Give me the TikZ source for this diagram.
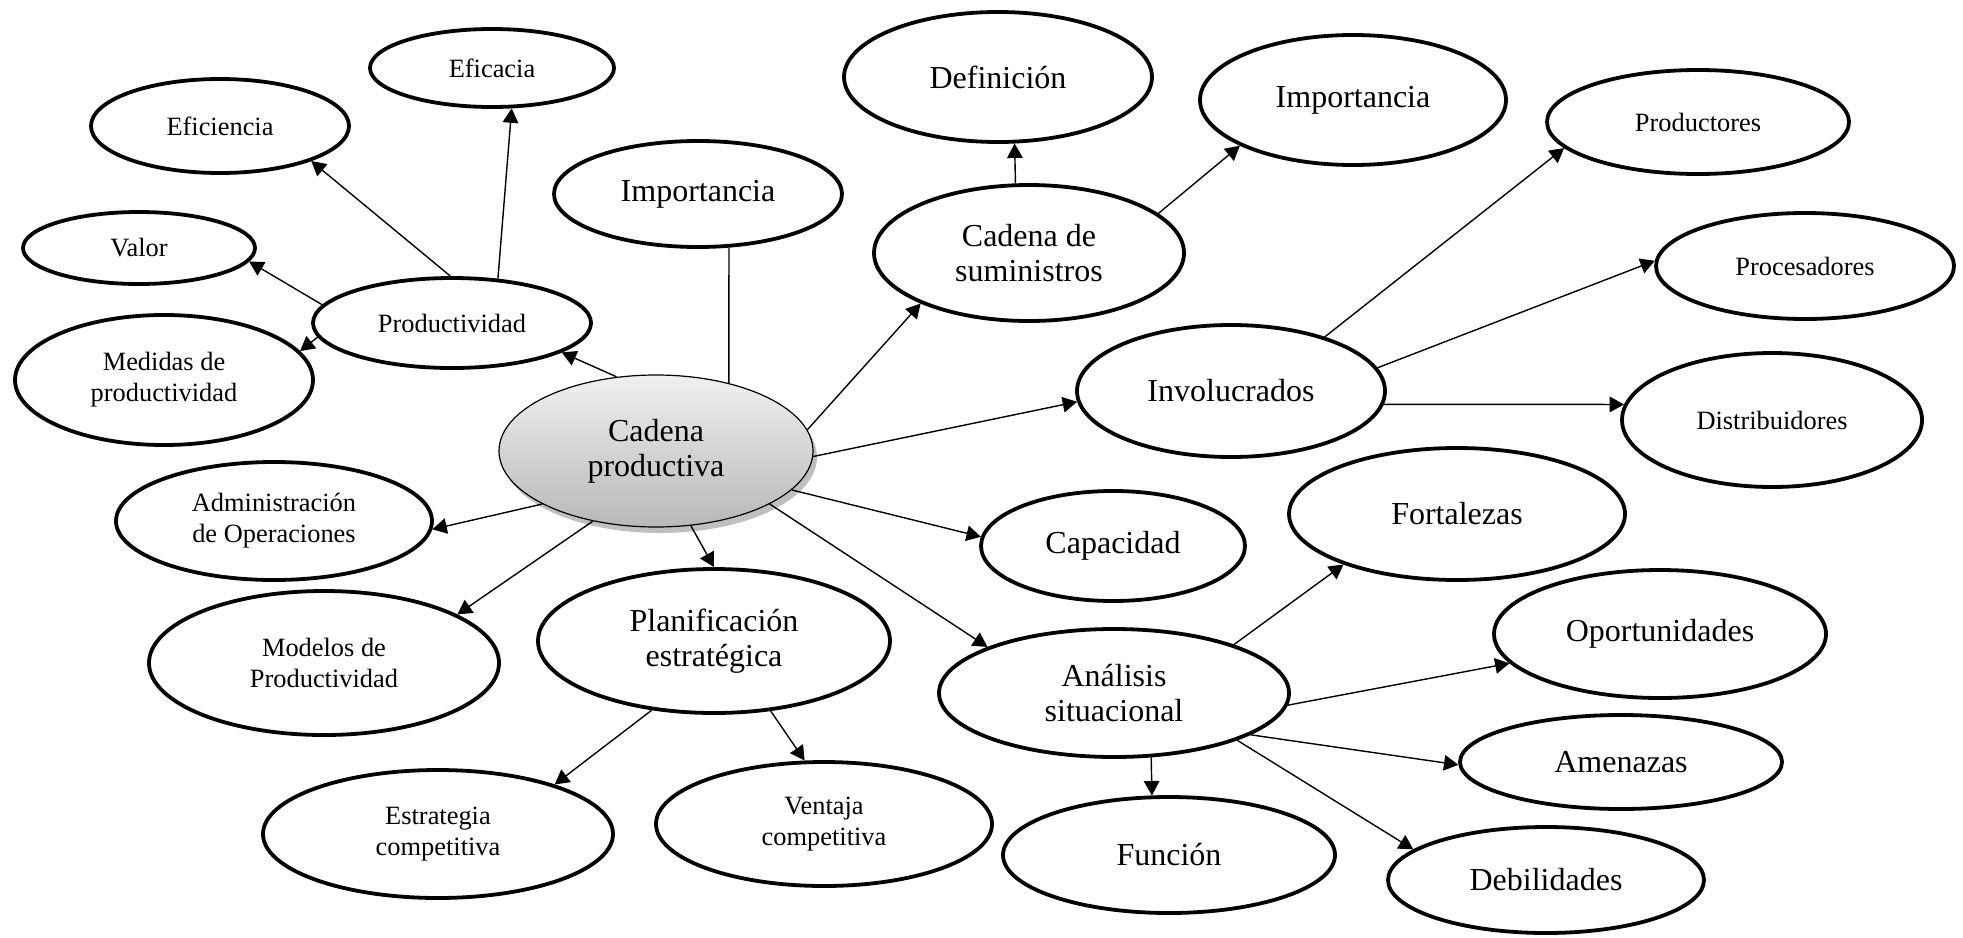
\documentclass[tikz,border=0pt]{standalone}
\usepackage{fontspec}
\setmainfont{Liberation Serif}
\usetikzlibrary{shapes.geometric,arrows.meta,shadows}

\definecolor{hubtop}{RGB}{240,240,240}
\definecolor{hubbottom}{RGB}{184,184,184}

\tikzset{
  bubble/.style={ellipse, draw, line width=1.9pt, inner sep=0pt, align=center},
  sz/.style 2 args={minimum width=#1pt, minimum height=#2pt},
  big/.style={font=\fontsize{16}{17.5}\selectfont},
  small/.style={font=\fontsize{13.2}{15.5}\selectfont},
  hub/.style={ellipse, draw, line width=0.6pt, inner sep=0pt, align=center,
    top color=hubtop, bottom color=hubbottom,
    drop shadow={shadow xshift=2pt, shadow yshift=-3pt, opacity=0.25, fill=black}},
  link/.style={line width=0.7pt},
  arr/.style={link, -{Triangle[length=7.2pt,width=7.8pt]}},
}

\begin{document}
\begin{tikzpicture}[x=0.5pt, y=-0.5pt]
\useasboundingbox (0,0) rectangle (1963,937);

% central concept
\node[hub, big, sz={157}{76}] (cp) at (656,451) {Cadena\\productiva};

% productivity branch
\node[bubble, small, sz={139}{45}] (prod) at (452,323) {Productividad};
\node[bubble, small, sz={122}{39}] (eficacia) at (492,68) {Eficacia};
\node[bubble, small, sz={129}{47}] (eficiencia) at (220,126) {Eficiencia};
\node[bubble, small, sz={116}{36}] (valor) at (139,248) {Valor};
\node[bubble, small, sz={149}{65}] (medidas) at (164,380) {Medidas de\\productividad};

\node[bubble, big, sz={144}{53}] (impL) at (698,194) {Importancia};

% supply chain branch
\node[bubble, big, sz={155}{68}] (sum) at (1029,253) {Cadena de\\suministros};
\node[bubble, big, sz={154}{65}] (def) at (998,77) {Definición};
\node[bubble, big, sz={153}{65}] (impR) at (1353,100) {Importancia};

% stakeholders
\node[bubble, big, sz={154}{66}] (inv) at (1231,391) {Involucrados};
\node[bubble, small, sz={151}{52}] (prodtores) at (1698,122) {Productores};
\node[bubble, small, sz={149}{53}] (proc) at (1805,266) {Procesadores};
\node[bubble, small, sz={150}{67}] (dist) at (1772,420) {Distribuidores};

% left and lower branches
\node[bubble, small, sz={158}{59}] (admin) at (274,521) {Administración\\de Operaciones};
\node[bubble, small, sz={175}{72}] (modelos) at (324,663) {Modelos de\\Productividad};
\node[bubble, big, sz={176}{72}] (plan) at (714,641) {Planificación\\estratégica};
\node[bubble, small, sz={175}{64}] (estr) at (438,834) {Estrategia\\competitiva};
\node[bubble, small, sz={168}{62}] (vent) at (824,824) {Ventaja\\competitiva};
\node[bubble, big, sz={132}{55}] (cap) at (1113,546) {Capacidad};

% situational analysis
\node[bubble, big, sz={175}{64}] (anal) at (1114,693) {Análisis\\situacional};
\node[bubble, big, sz={168}{66}] (fort) at (1457,514) {Fortalezas};
\node[bubble, big, sz={166}{64}] (oport) at (1660,634) {Oportunidades};
\node[bubble, big, sz={161}{47}] (amen) at (1621,762) {Amenazas};
\node[bubble, big, sz={166}{58}] (func) at (1169,855) {Función};
\node[bubble, big, sz={158}{53}] (deb) at (1546,880) {Debilidades};

% connectors
\draw[arr] (cp.118) -- (prod.-15);
\draw[arr] (prod.92) -- (eficiencia.-21);
\draw[arr] (prod.44) -- (eficacia.-64);
\draw[arr] (prod.172) -- (valor.-7);
\draw[arr] (prod.-174) -- (medidas.12);
\draw[link] (cp.43) -- (impL.-60);

\draw[arr] (cp.8) -- (sum.-155);
\draw[arr] (sum.101) -- (def.-76);
\draw[arr] (sum.17) -- (impR.-158);

\draw[arr] (cp.-2) -- (inv.-176);
\draw[arr] (inv.30) -- (prodtores.-169);
\draw[arr] (inv.9) -- (proc.178);
\draw[arr] (inv.-5) -- (dist.174);

\draw[arr] (cp.-155) -- (admin.-3);
\draw[arr] (cp.-132) -- (modelos.20);
\draw[arr] (cp.-65) -- (plan.north);
\draw[arr] (cp.-16) -- (cap.176);
\draw[arr] (cp.-25) -- (anal.160);

\draw[arr] (plan.-132) -- (estr.23);
\draw[arr] (plan.-51) -- (vent.107);

\draw[arr] (anal.22) -- (fort.-156);
\draw[arr] (anal.-4) -- (oport.-169);
\draw[arr] (anal.-17) -- (amen.-179);
\draw[arr] (anal.-21) -- (deb.167);
\draw[arr] (anal.-60) -- (func.106);
\end{tikzpicture}
\end{document}
